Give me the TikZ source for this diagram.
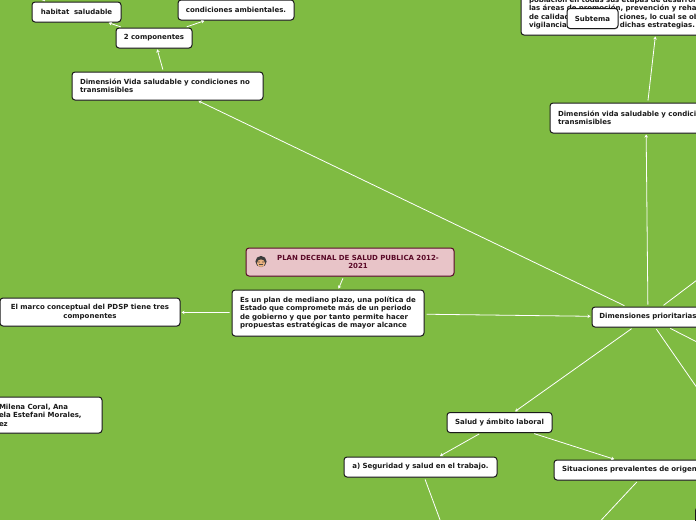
\documentclass[tikz,border=0pt]{standalone}
\usepackage{fontspec}
\setmainfont{DejaVu Sans}
\usepackage{tikz}
\usetikzlibrary{arrows.meta,shadows}
\definecolor{cGrass}{HTML}{7FBB42}
\definecolor{cInk}{HTML}{1A1A1A}
\definecolor{cPink}{HTML}{E8C4C8}
\definecolor{cMaroon}{HTML}{5A0A28}
\tikzset{
  topic/.style={draw=cInk,fill=white,rounded corners=3pt,line width=1pt,font=\fontsize{7}{8.4}\selectfont\bfseries,text=cInk,inner sep=0pt,
    drop shadow={shadow xshift=0.4pt,shadow yshift=-0.8pt,opacity=0.35}},
  lefttopic/.style={topic,align=left,text width=#1},
  midtopic/.style={topic,align=center,text width=#1},
  maintopic/.style={topic,draw=cMaroon,fill=cPink,text=cMaroon,align=center,text width=200pt},
  conn/.style={-{Stealth[length=3pt,width=3.5pt]},line width=0.8pt,color=white,shorten >=1pt,shorten <=2pt},
}
\begin{document}
\begin{tikzpicture}[x=1pt,y=-1pt]
    \useasboundingbox (0,0) rectangle (696,520);
    \clip (0,0) rectangle (696,520);
    \fill[cGrass] (0,0) rectangle (696,520);
    % centre
    \node[maintopic,minimum width=208pt,minimum height=28pt] (plan) at (350,262) {\hspace*{16pt}PLAN DECENAL DE SALUD PUBLICA 2012-\\\hspace*{16pt}2021};
    \node[lefttopic=176pt,minimum width=192pt,minimum height=46pt] (resumen) at (328,313) {Es un plan de mediano plazo, una política de\\Estado que compromete más de un periodo\\de gobierno y que por tanto permite hacer\\propuestas estratégicas de mayor alcance};
    \node[midtopic=180pt,minimum width=180pt,minimum height=28pt] (marco) at (90,312) {El marco conceptual del PDSP tiene tres\\componentes};
    \node[lefttopic=84pt,minimum width=122pt,minimum height=36pt] (autores) at (41,415) {Milena Coral, Ana\\ela Estefani Morales,\\ez};
    \node[midtopic=112pt,minimum width=112pt,minimum height=20pt] (dimensiones) at (648,317) {Dimensiones prioritarias};
    % upper left
    \node[lefttopic=175pt,minimum width=191pt,minimum height=28pt] (vidaizq) at (167.5,86) {Dimensión Vida saludable y condiciones no\\transmisibles};
    \node[midtopic=76pt,minimum width=76pt,minimum height=20pt] (componentes) at (154,38) {2 componentes};
    \node[midtopic=89pt,minimum width=89pt,minimum height=20pt] (habitat) at (76.5,12) {habitat\ \ saludable};
    \node[midtopic=116pt,minimum width=116pt,minimum height=20pt] (ambientales) at (236,10) {condiciones ambientales.};
    % upper right
    \node[lefttopic=176pt,minimum width=192pt,minimum height=30pt] (vidader) at (646,118) {Dimensión vida saludable y condiciones no\\transmisibles};
    \node[lefttopic=258pt,minimum width=274pt,minimum height=44pt] (poblacion) at (658,13) {población en todas sus etapas de desarrollo,\\las áreas de promoción, prevención y rehabilitación\\de calidad\hspace{50pt}ciones, lo cual se obtiene\\vigilancia\hspace{53pt}dichas estrategias.};
    \node[midtopic=51pt,minimum width=51pt,minimum height=20pt] (subtema) at (592.5,18.5) {Subtema};
    % lower
    \node[midtopic=105pt,minimum width=105pt,minimum height=20pt] (laboral) at (499.5,422.5) {Salud y ámbito laboral};
    \node[midtopic=153pt,minimum width=153pt,minimum height=20pt] (seguridad) at (420.5,467) {a) Seguridad y salud en el trabajo.};
    \node[lefttopic=172pt,minimum width=188pt,minimum height=20pt] (situaciones) at (648,470) {Situaciones prevalentes de origen laboral};
    \node[topic,minimum width=40pt,minimum height=30pt,anchor=north west] (esquina) at (695,507) {};
    % free ends
    \coordinate (libreA) at (762,231);
    \coordinate (libreB) at (744,366);
    \coordinate (libreC) at (720,421);
    \coordinate (libreD) at (460,574);
    \coordinate (libreE) at (564,560);
    \coordinate (libreF) at (20,-8);
    % connectors
    \draw[conn] (plan) -- (resumen);
    \draw[conn] (resumen) -- (marco);
    \draw[conn] (resumen) -- (dimensiones);
    \draw[conn] (dimensiones) -- (vidaizq);
    \draw[conn] (dimensiones) -- (vidader);
    \draw[conn] (dimensiones) -- (laboral);
    \draw[conn] (dimensiones) -- (libreA);
    \draw[conn] (dimensiones) -- (libreB);
    \draw[conn] (dimensiones) -- (libreC);
    \draw[conn] (vidaizq) -- (componentes);
    \draw[conn] (componentes) -- (habitat);
    \draw[conn] (componentes) -- (ambientales);
    \draw[conn] (habitat) -- (libreF);
    \draw[conn] (vidader) -- (poblacion);
    \draw[conn] (laboral) -- (seguridad);
    \draw[conn] (laboral) -- (situaciones);
    \draw[conn] (seguridad) -- (libreD);
    \draw[conn] (situaciones) -- (libreE);
    % face icon
    \fill[cInk!85] (261,261.5) circle (5.6pt);
    \fill[cPink!40!orange!60!brown!70!white] (261,263.2) ellipse (4pt and 3.8pt);
    \fill[cInk] (259,262) circle (0.6pt) (263,262) circle (0.6pt);
    \fill[cInk!80] (258.8,264.4) rectangle (263.2,265.2);
\end{tikzpicture}
\end{document}
